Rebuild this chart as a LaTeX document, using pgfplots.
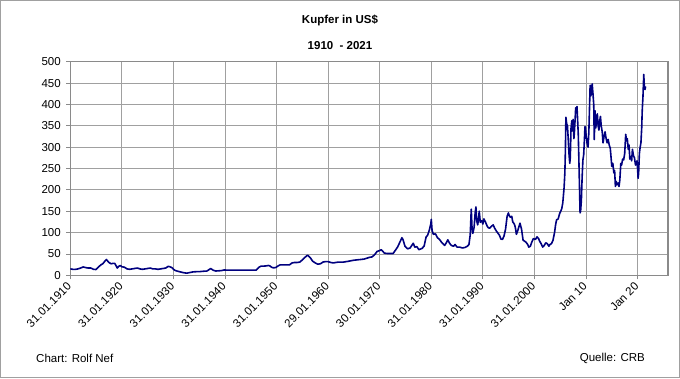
\documentclass[border=0pt]{standalone}
\usepackage{pgfplots}
\pgfplotsset{compat=1.18}
\usepackage{pgfplotstable}
\usepackage{fontspec}
\setmainfont{Liberation Sans}
\definecolor{linec}{HTML}{00007F}
\definecolor{gridc}{HTML}{A0A0A0}
\definecolor{axisc}{HTML}{8A8A8A}
\pgfplotstableread{
x y
1910.0 15
1910.5 14
1911.0 14
1911.5 15
1912.0 17
1912.5 19.5
1913.0 18
1913.5 17
1914.0 17
1914.5 14
1915.0 13.5
1915.5 20
1916.0 25
1916.3 27
1916.7 33
1917.0 37
1917.2 34
1917.5 30
1917.9 27
1918.3 28
1918.6 28
1918.9 22
1919.1 17
1919.4 21
1919.7 23
1920.0 20
1920.5 19
1921.0 15
1921.5 14
1922.0 15
1922.5 16
1923.0 17
1923.5 15
1924.0 14
1924.5 15
1925.0 16
1925.5 17
1926.0 15
1926.5 15
1927.0 14
1927.5 15
1928.0 16
1928.5 17
1929.0 21
1929.3 20
1929.7 18
1930.0 14
1930.4 11
1931.0 9
1931.5 7.5
1932.0 6
1932.6 5
1933.2 6.5
1933.8 8
1934.5 8.5
1935.0 8.5
1935.8 9.5
1936.5 10
1937.0 14
1937.2 16
1937.7 12
1938.2 10
1938.7 10.5
1939.3 11
1939.8 12.5
1940.5 12
1941.0 12
1946.0 12
1946.2 14
1946.6 19
1947.0 21.5
1947.5 21.5
1948.0 22
1948.4 23
1948.7 22
1949.0 19
1949.4 17.5
1949.8 18
1950.3 22
1950.7 24.5
1952.5 24.5
1953.0 29
1953.5 30
1954.0 30
1954.5 31
1955.0 36
1955.5 42
1956.0 47
1956.2 45
1956.6 40
1957.0 33
1957.5 29
1958.0 26
1958.5 27
1959.0 31
1959.5 32
1960.0 32
1960.5 30
1961.0 29
1961.5 30
1962.0 31
1963.0 31
1964.0 33
1964.8 35
1965.5 36
1966.3 37
1967.0 38
1968.0 42
1968.5 43
1969.0 48
1969.5 56
1970.0 58
1970.3 60
1970.9 52
1971.5 51
1972.0 51
1972.6 51
1973.0 58
1973.5 67
1974.0 80
1974.3 88
1974.5 84
1974.9 68
1975.4 62
1975.9 64
1976.5 75
1976.8 66
1977.2 67
1977.6 60
1978.2 63
1978.6 68
1979.0 90
1979.3 94
1979.6 105
1979.9 120
1980.0 131
1980.15 105
1980.4 96
1980.8 97
1981.2 88
1981.6 84
1982.0 77
1982.6 70
1983.0 78
1983.2 83
1983.6 74
1983.9 70
1984.3 68
1984.6 72
1985.0 66
1985.5 66
1986.0 64
1986.5 65
1987.0 68
1987.3 72
1987.55 95
1987.75 155
1987.9 110
1988.05 98
1988.3 112
1988.5 145
1988.65 160
1988.8 128
1989.0 118
1989.15 132
1989.3 150
1989.5 124
1989.8 128
1990.0 120
1990.2 132
1990.5 125
1990.8 116
1991.0 112
1991.3 110
1991.6 114
1992.0 118
1992.3 110
1992.6 104
1992.9 99
1993.2 94
1993.5 85
1993.8 84
1994.1 92
1994.4 108
1994.7 138
1994.95 146
1995.1 140
1995.3 136
1995.6 138
1995.8 125
1996.1 120
1996.3 112
1996.5 96
1996.7 102
1997.0 114
1997.2 122
1997.5 108
1997.8 82
1998.1 80
1998.4 77
1998.7 72
1998.9 66
1999.2 68
1999.5 78
1999.8 86
2000.2 84
2000.5 90
2000.8 86
2001.0 80
2001.3 74
2001.6 66
2001.9 70
2002.2 76
2002.5 74
2002.8 68
2003.0 72
2003.3 74
2003.6 82
2003.9 100
2004.1 118
2004.3 130
2004.6 132
2004.9 145
2005.1 150
2005.3 156
2005.5 170
2005.75 205
2005.9 240
2006.0 290
2006.1 370
2006.25 355
2006.4 350
2006.55 320
2006.7 285
2006.85 262
2006.95 275
2007.1 345
2007.25 362
2007.35 338
2007.5 365
2007.65 320
2007.75 335
2007.9 368
2008.0 392
2008.1 380
2008.25 395
2008.35 370
2008.5 330
2008.6 280
2008.75 200
2008.85 146
2008.95 150
2009.1 175
2009.25 230
2009.4 270
2009.55 282
2009.7 320
2009.8 348
2009.9 345
2010.0 330
2010.2 310
2010.4 300
2010.55 335
2010.7 400
2010.8 445
2010.95 420
2011.1 440
2011.2 448
2011.35 425
2011.5 400
2011.6 318
2011.75 385
2011.9 345
2012.05 365
2012.2 378
2012.35 350
2012.5 340
2012.65 360
2012.8 372
2012.95 350
2013.15 335
2013.3 310
2013.5 325
2013.7 336
2013.9 320
2014.1 310
2014.3 318
2014.5 305
2014.7 298
2014.9 270
2015.0 255
2015.2 262
2015.4 240
2015.55 245
2015.7 208
2015.85 220
2016.0 212
2016.2 216
2016.4 208
2016.55 222
2016.75 262
2016.9 258
2017.1 272
2017.3 270
2017.5 285
2017.7 330
2017.85 315
2018.0 320
2018.2 295
2018.35 305
2018.5 272
2018.7 278
2018.85 268
2019.0 295
2019.2 280
2019.4 275
2019.6 258
2019.75 262
2019.9 268
2020.0 250
2020.1 227
2020.2 238
2020.35 285
2020.5 300
2020.65 310
2020.8 345
2020.9 385
2021.05 420
2021.2 470
2021.3 445
2021.45 435
2021.55 442
}\copper
\begin{document}
\begin{tikzpicture}
\path[use as bounding box] (0pt,0pt) rectangle (680pt,378pt);
\draw[gridc, line width=1pt] (0.5pt,0.5pt) rectangle (679.5pt,377.5pt);
\begin{axis}[
  at={(70.3pt,102.7pt)}, anchor=south west,
  scale only axis, width=597.7pt, height=213.6pt,
  xmin=1910, xmax=2025.9, ymin=0, ymax=500,
  xtick={1910,1920,1930,1940,1950,1960,1970,1980,1990,2000,2010,2020},
  xticklabels={31.01.1910,31.01.1920,31.01.1930,31.01.1940,31.01.1950,29.01.1960,30.01.1970,31.01.1980,31.01.1990,31.01.2000,Jan 10,Jan 20},
  ytick={0,50,...,500},
  grid=major,
  major grid style={gridc, line width=0.8pt},
  axis line style={axisc, line width=1.5pt},
  tick style={axisc, line width=0.8pt},
  tick align=outside, major tick length=4pt,
  xtick pos=bottom, ytick pos=left,
  /pgf/number format/assume math mode=true,
  ticklabel style={font=\fontsize{11.5}{13}\selectfont},
  xticklabel style={rotate=45, anchor=east, yshift=-3pt, xshift=-1pt},
  yticklabel style={anchor=east, xshift=-2pt},
  clip=true,
]
\addplot[linec, line width=1.6pt, line join=round] table[x=x,y=y] {\copper};
\end{axis}
\node[font=\fontsize{11.5}{13}\selectfont\bfseries] at (340pt,358pt) {Kupfer in US\$};
\node[font=\fontsize{11.5}{13}\selectfont\bfseries] at (340pt,332pt) {1910\ \ - 2021};
\node[font=\fontsize{11.5}{13}\selectfont, anchor=west, inner sep=0pt] at (36pt,20pt) {Chart: Rolf Nef};
\node[font=\fontsize{11.5}{13}\selectfont, anchor=east, inner sep=0pt] at (645pt,20pt) {Quelle: CRB};
\end{tikzpicture}
\end{document}
